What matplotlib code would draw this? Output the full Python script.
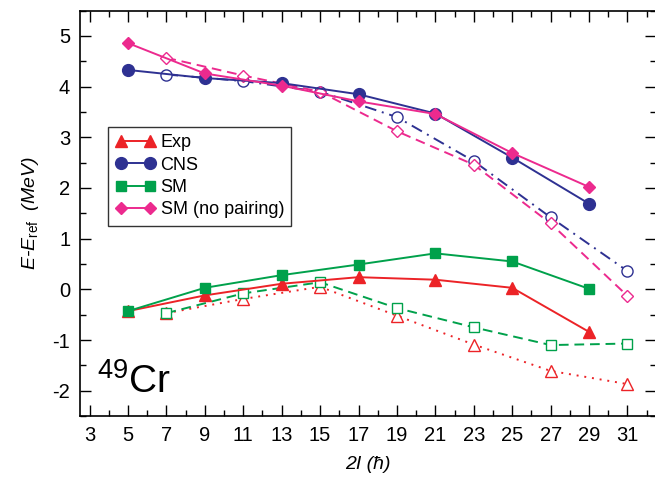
import matplotlib
matplotlib.use("Agg")
import matplotlib.pyplot as plt
from matplotlib.ticker import MultipleLocator

plt.rcParams['font.family'] = ['Liberation Sans', 'DejaVu Sans']
plt.rcParams['mathtext.fontset'] = 'custom'
plt.rcParams['mathtext.rm'] = 'Liberation Sans'
plt.rcParams['mathtext.it'] = 'Liberation Sans:italic'
plt.rcParams['axes.unicode_minus'] = False

# even-signature states (filled markers, solid lines)
spin_a = [5, 9, 13, 17, 21, 25, 29]
exp_a = [-0.43, -0.12, 0.11, 0.24, 0.19, 0.03, -0.84]
cns_a = [4.33, 4.17, 4.07, 3.85, 3.47, 2.60, 1.69]
sm_a = [-0.43, 0.03, 0.28, 0.49, 0.71, 0.55, 0.01]
smnp_a = [4.86, 4.26, 4.02, 3.71, 3.46, 2.69, 2.02]

# odd-signature states (open markers, broken lines)
spin_b = [7, 11, 15, 19, 23, 27, 31]
exp_b = [-0.47, -0.19, 0.05, -0.52, -1.09, -1.61, -1.87]
cns_b = [4.24, 4.11, 3.90, 3.40, 2.53, 1.42, 0.36]
sm_b = [-0.47, -0.08, 0.14, -0.37, -0.75, -1.10, -1.07]
smnp_b = [4.57, 4.22, 3.90, 3.12, 2.46, 1.30, -0.13]

red = '#ec2327'
blue = '#2e3192'
green = '#00a14b'
pink = '#ec2a8e'

fig = plt.figure(figsize=(6.55, 4.78), dpi=100)
ax = fig.add_axes([0.122, 0.1297, 0.880, 0.848])

lw = 1.4
ax.plot(spin_b, exp_b, color=red, ls=(0, (1, 3)), lw=lw, marker='^', ms=8,
        mfc='white', mec=red, mew=1.0)
ax.plot(spin_b, sm_b, color=green, ls=(0, (5, 3)), lw=lw, marker='s', ms=7,
        mfc='white', mec=green, mew=1.0)
ax.plot(spin_b, cns_b, color=blue, ls=(0, (6, 3, 1, 3)), lw=lw, marker='o', ms=8,
        mfc='white', mec=blue, mew=1.0)
ax.plot(spin_b, smnp_b, color=pink, ls=(0, (5, 3)), lw=lw, marker='D', ms=6.5,
        mfc='white', mec=pink, mew=1.0)

ax.plot(spin_a, exp_a, color=red, lw=lw, marker='^', ms=8.5, label='Exp')
ax.plot(spin_a, cns_a, color=blue, lw=lw, marker='o', ms=8.5, label='CNS')
ax.plot(spin_a, sm_a, color=green, lw=lw, marker='s', ms=7.5, label='SM')
ax.plot(spin_a, smnp_a, color=pink, lw=lw, marker='D', ms=6.5, label='SM (no pairing)')

ax.set_xlim(2.5, 32.5)
ax.set_ylim(-2.5, 5.5)
ax.xaxis.set_minor_locator(MultipleLocator(1))
ax.set_xticks(range(3, 32, 2))
ax.yaxis.set_major_locator(MultipleLocator(1))
ax.yaxis.set_minor_locator(MultipleLocator(0.5))
ax.tick_params(which='both', direction='in', top=True, right=True,
               labelsize=14.5, width=1.0)
ax.tick_params(which='major', length=8, pad=7)
ax.tick_params(which='minor', length=4)
for sp in ax.spines.values():
    sp.set_linewidth(1.2)

ax.set_xlabel('2I (ħ)', fontsize=14, style='italic', labelpad=8)
ax.set_ylabel(r'$E$-$E_{\rm ref}$  (MeV)', fontsize=14, style='italic', labelpad=8)

ax.text(3.4, -2.05, r'$^{49}$Cr', fontsize=28)

leg = ax.legend(loc='upper left', bbox_to_anchor=(0.049, 0.713), borderaxespad=0,
                numpoints=2, fontsize=13, fancybox=False, framealpha=1,
                edgecolor='#333333', handlelength=2.2, handletextpad=0.3,
                labelspacing=0.3, borderpad=0.4)
leg.get_frame().set_linewidth(1.0)

fig.savefig('out.png', dpi=100)
